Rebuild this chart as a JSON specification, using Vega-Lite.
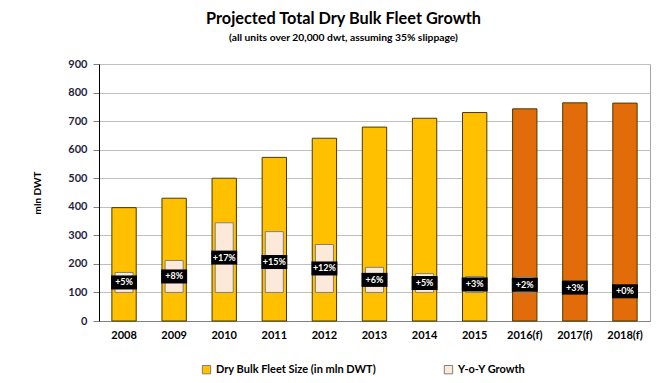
{
  "$schema": "https://vega.github.io/schema/vega-lite/v6.json",
  "width": 551,
  "height": 257,
  "autosize": "none",
  "padding": {"left": 99, "top": 64, "right": 15, "bottom": 62},
  "background": "white",
  "config": {
    "font": "Lato",
    "view": {"stroke": "#A6A6A6", "strokeWidth": 1},
    "axisY": {
      "labelOverlap": false,
      "labelFontWeight": "bold",
      "labelFontSize": 11,
      "labelColor": "#1F1F3F",
      "labelPadding": 6,
      "tickColor": "#808080",
      "tickSize": 6,
      "domainColor": "black",
      "gridColor": "#BFBFBF",
      "titleFontSize": 10,
      "titleFontWeight": "bold",
      "titleColor": "black",
      "titlePadding": 25
    }
  },
  "title": {
    "text": "Projected Total Dry Bulk Fleet Growth",
    "subtitle": "(all units over 20,000 dwt, assuming 35% slippage)",
    "fontSize": 16.3,
    "fontWeight": "bold",
    "subtitleFontSize": 10.3,
    "subtitleFontWeight": "bold",
    "subtitleColor": "black",
    "color": "black",
    "anchor": "middle",
    "dx": -31,
    "offset": 15,
    "subtitlePadding": 5
  },
  "data": {
    "values": [
      {"year": "2008", "fleet": 397, "base": 100, "growth": 170, "label": "+5%", "forecast": false},
      {"year": "2009", "fleet": 430, "base": 100, "growth": 212, "label": "+8%", "forecast": false},
      {"year": "2010", "fleet": 500, "base": 100, "growth": 344, "label": "+17%", "forecast": false},
      {"year": "2011", "fleet": 573, "base": 100, "growth": 313, "label": "+15%", "forecast": false},
      {"year": "2012", "fleet": 640, "base": 100, "growth": 268, "label": "+12%", "forecast": false},
      {"year": "2013", "fleet": 679, "base": 100, "growth": 188, "label": "+6%", "forecast": false},
      {"year": "2014", "fleet": 710, "base": 100, "growth": 166, "label": "+5%", "forecast": false},
      {"year": "2015", "fleet": 730, "base": 100, "growth": 156, "label": "+3%", "forecast": false},
      {"year": "2016(f)", "fleet": 743, "base": 100, "growth": 154, "label": "+2%", "forecast": true},
      {"year": "2017(f)", "fleet": 764, "base": 100, "growth": 134, "label": "+3%", "forecast": true},
      {"year": "2018(f)", "fleet": 763, "base": 100, "growth": 108, "label": "+0%", "forecast": true}
    ]
  },
  "transform": [
    {"calculate": "(datum.base + datum.growth) / 2", "as": "mid"},
    {"calculate": "'Dry Bulk Fleet Size (in mln DWT)'", "as": "s1"},
    {"calculate": "'Y-o-Y Growth'", "as": "s2"}
  ],
  "encoding": {
    "x": {
      "field": "year",
      "type": "nominal",
      "sort": null,
      "axis": {
        "title": null,
        "labelAngle": 0,
        "labelFontWeight": "bold",
        "labelFontSize": 11,
        "labelColor": "black",
        "labelPadding": 8,
        "ticks": false,
        "domainColor": "#808080"
      }
    }
  },
  "layer": [
    {
      "mark": {"type": "bar", "width": {"band": 0.54}, "stroke": "#4A3A00", "strokeWidth": 1},
      "encoding": {
        "y": {
          "field": "fleet",
          "type": "quantitative",
          "scale": {"domain": [0, 900]},
          "axis": {"title": "mln DWT", "values": [0, 100, 200, 300, 400, 500, 600, 700, 800, 900]}
        },
        "fill": {
          "condition": {"test": "datum.forecast", "value": "#E36C0A"},
          "field": "s1",
          "type": "nominal",
          "scale": {
            "domain": ["Dry Bulk Fleet Size (in mln DWT)", "Y-o-Y Growth"],
            "range": ["#FFC000", "#FDE9D9"]
          },
          "legend": {
            "title": null,
            "orient": "none",
            "legendX": 102,
            "legendY": 300,
            "direction": "horizontal",
            "symbolType": "square",
            "symbolSize": 70,
            "symbolStrokeColor": "black",
            "symbolStrokeWidth": 1,
            "labelFontWeight": "bold",
            "labelFontSize": 11,
            "labelColor": "black",
            "labelLimit": 300,
            "columnPadding": 65
          }
        }
      }
    },
    {
      "mark": {"type": "bar", "width": {"band": 0.4}, "stroke": "#7F7F7F", "strokeWidth": 1},
      "encoding": {
        "y": {"field": "base", "type": "quantitative", "axis": {"title": "mln DWT", "values": [0, 100, 200, 300, 400, 500, 600, 700, 800, 900]}},
        "y2": {"field": "growth"},
        "fill": {"field": "s2", "type": "nominal"}
      }
    },
    {
      "mark": {"type": "tick", "orient": "horizontal", "size": 26, "thickness": 14, "color": "black", "opacity": 1},
      "encoding": {
        "y": {"field": "mid", "type": "quantitative", "axis": {"title": "mln DWT", "values": [0, 100, 200, 300, 400, 500, 600, 700, 800, 900]}}
      }
    },
    {
      "mark": {"type": "text", "color": "white", "fontWeight": "bold", "fontSize": 9, "baseline": "middle", "align": "center"},
      "encoding": {
        "y": {"field": "mid", "type": "quantitative", "axis": {"title": "mln DWT", "values": [0, 100, 200, 300, 400, 500, 600, 700, 800, 900]}},
        "text": {"field": "label"}
      }
    }
  ]
}
